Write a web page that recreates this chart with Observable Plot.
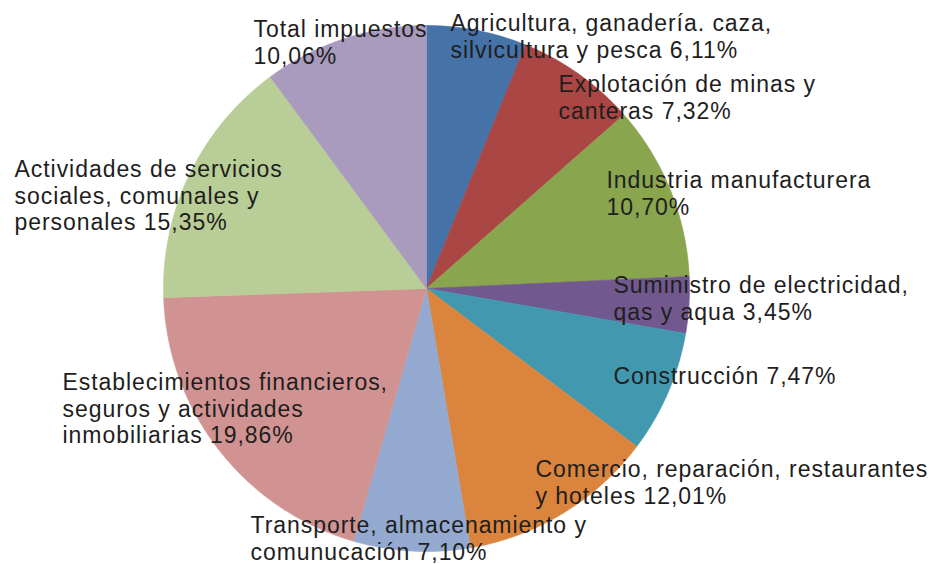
<!DOCTYPE html>
<html>
<head>
<meta charset="utf-8">
<script src="https://cdn.jsdelivr.net/npm/d3@7"></script>
<script src="https://cdn.jsdelivr.net/npm/@observablehq/plot@0.6"></script>
<style>
  html, body { margin: 0; padding: 0; background: #fff; }
  #chart svg { display: block; }
  #chart svg text { letter-spacing: 0.95px; }
</style>
</head>
<body>
<div id="chart"></div>
<script>
// ---- data ----
const categories = [
  "Agricultura, ganadería. caza,\nsilvicultura y pesca",
  "Explotación de minas y\ncanteras",
  "Industria manufacturera\n",
  "Suministro de electricidad,\nqas y aqua",
  "Construcción",
  "Comercio, reparación, restaurantes\ny hoteles",
  "Transporte, almacenamiento y\ncomunucación",
  "Establecimientos financieros,\nseguros y actividades\ninmobiliarias",
  "Actividades de servicios\nsociales, comunales y\npersonales",
  "Total impuestos\n"
];
const values = [6.11, 7.32, 10.70, 3.45, 7.47, 12.01, 7.10, 19.86, 15.35, 10.06];
const valueLabels = ["6,11%", "7,32%", "10,70%", "3,45%", "7,47%", "12,01%", "7,10%", "19,86%", "15,35%", "10,06%"];

// ---- styling / layout (not data) ----
const colors = ["#4572A7", "#AA4643", "#89A54E", "#71588F", "#4198AF",
                "#DB843D", "#93A9CF", "#D19392", "#B9CD96", "#A99BBD"];
// label anchor (left x, top of first line) in pixels
const labelPos = [
  [450, 12], [558, 73], [606, 169], [613, 274], [613, 365],
  [535, 458], [250, 514], [62, 371], [14, 158], [253, 18]
];
const cx = 426, cy = 288, R = 263;

// ---- geometry from values ----
const total = d3.sum(values);
const slices = [];
let cum = 0;
values.forEach((v, i) => {
  const a0 = cum / total * 2 * Math.PI;
  cum += v;
  const a1 = cum / total * 2 * Math.PI;
  const n = Math.max(2, Math.ceil((a1 - a0) / (Math.PI / 360)));
  slices.push({cat: categories[i], x: 0, y: 0});
  for (let k = 0; k <= n; k++) {
    const a = a0 + (a1 - a0) * k / n;
    slices.push({cat: categories[i], x: Math.sin(a), y: Math.cos(a)});
  }
  slices.push({cat: categories[i], x: 0, y: 0});
});

const labels = categories.map((c, i) => {
  const parts = c.split("\n");
  let text;
  if (parts[parts.length - 1] === "") {
    parts[parts.length - 1] = valueLabels[i];
    text = parts.join("\n");
  } else {
    text = c + " " + valueLabels[i];
  }
  return {
    text,
    x: (labelPos[i][0] - cx) / R,
    y: (cy - labelPos[i][1]) / R
  };
});

const chart = Plot.plot({
  width: 931,
  height: 564,
  margin: 0,
  style: {fontFamily: "'Liberation Sans', Arial, sans-serif", background: "#fff"},
  x: {domain: [-1, 1], range: [cx - R, cx + R], axis: null},
  y: {domain: [-1, 1], range: [cy + R, cy - R], axis: null},
  color: {domain: categories, range: colors},
  marks: [
    Plot.line(slices, {x: "x", y: "y", z: "cat", fill: "cat", stroke: "cat", strokeWidth: 0.6, curve: "linear"}),
    Plot.text(labels, {
      x: "x", y: "y", text: "text",
      textAnchor: "start", lineAnchor: "top",
      lineHeight: 1.15, fontSize: 23, fill: "#1e1e1e"
    })
  ]
});
document.getElementById("chart").appendChild(chart);
</script>
</body>
</html>
